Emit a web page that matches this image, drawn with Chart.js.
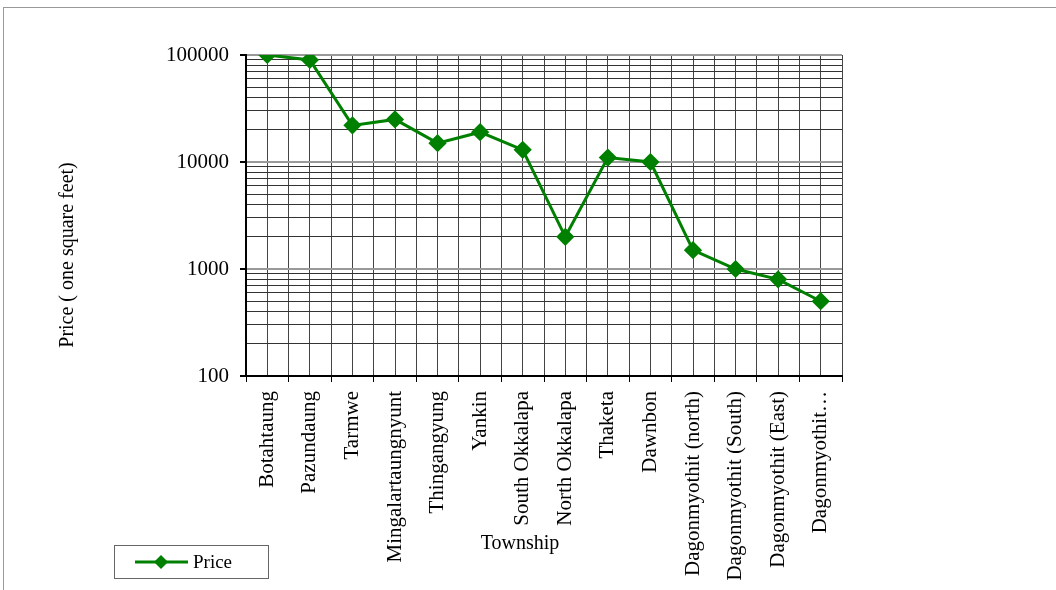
<!DOCTYPE html>
<html>
<head>
<meta charset="utf-8">
<script src="https://cdn.jsdelivr.net/npm/chart.js@4/dist/chart.umd.min.js"></script>
<style>
  html, body { margin: 0; padding: 0; background: #fff; overflow: hidden; }
  #frame { position: absolute; left: 3px; top: 7px; width: 1100px; height: 700px; border: 1px solid #999; }
  #wrap { position: absolute; left: 0; top: 0; width: 1056px; height: 590px; }
</style>
</head>
<body>
<div id="frame"></div>
<div id="wrap"><canvas id="priceChart"></canvas></div>
<script>
const townships = [
    "Botahtaung", "Pazundaung", "Tarmwe", "Mingalartaungnyunt", "Thingangyung",
    "Yankin", "South Okkalapa", "North Okkalapa", "Thaketa", "Dawnbon",
    "Dagonmyothit (north)", "Dagonmyothit (South)", "Dagonmyothit (East)", "Dagonmyothit…"
];
const prices = [100000, 90000, 22000, 25000, 15000, 19000, 13000, 2000, 11000, 10000, 1500, 1000, 800, 500];
const yTicks = [100, 1000, 10000, 100000];
const minorSteps = [1, 2, 3, 4, 5, 6, 7, 8, 9];

const FONT = "'Liberation Serif', 'Times New Roman', serif";
const GREEN = "#008000";

// grid values: 1..9 x each decade
const gridValues = [];
yTicks.forEach(d => {
    if (d === yTicks[yTicks.length - 1]) { gridValues.push(d); return; }
    minorSteps.forEach(k => gridValues.push(d * k));
});

// axis titles and legend drawn in Excel-like spots
const extrasPlugin = {
    id: "extras",
    afterDraw(chart) {
        const ctx = chart.ctx;
        ctx.save();
        ctx.fillStyle = "#000";
        ctx.font = "20px " + FONT;
        ctx.textAlign = "center";
        ctx.textBaseline = "middle";

        // y title
        ctx.save();
        ctx.translate(68, 255);
        ctx.rotate(-Math.PI / 2);
        ctx.fillText("Price ( one square feet)", 0, 0);
        ctx.restore();

        // x title
        ctx.fillText("Township", 520, 544);

        // legend box
        const ds = chart.data.datasets[0];
        ctx.strokeStyle = "#666";
        ctx.lineWidth = 1;
        ctx.strokeRect(114.5, 545.5, 154, 33);
        ctx.strokeStyle = ds.borderColor;
        ctx.lineWidth = 3;
        ctx.beginPath();
        ctx.moveTo(135, 562);
        ctx.lineTo(188, 562);
        ctx.stroke();
        ctx.fillStyle = ds.pointBackgroundColor;
        ctx.beginPath();
        ctx.moveTo(161, 555);
        ctx.lineTo(168, 562);
        ctx.lineTo(161, 569);
        ctx.lineTo(154, 562);
        ctx.closePath();
        ctx.fill();
        ctx.fillStyle = "#000";
        ctx.textAlign = "left";
        ctx.font = "19px " + FONT;
        ctx.fillText(ds.label, 193, 563);
        ctx.restore();
    }
};

new Chart(document.getElementById("priceChart"), {
    type: "line",
    data: {
        labels: townships,
        datasets: [{
            label: "Price",
            data: prices,
            borderColor: GREEN,
            backgroundColor: GREEN,
            pointBackgroundColor: GREEN,
            pointBorderColor: GREEN,
            borderWidth: 3,
            pointStyle: "rectRot",
            pointRadius: 7,
            tension: 0
        }]
    },
    options: {
        responsive: true,
        maintainAspectRatio: false,
        animation: false,
        layout: { padding: { top: 55, right: 214, left: 0, bottom: 0 } },
        plugins: {
            legend: { display: false },
            tooltip: { enabled: false }
        },
        scales: {
            x: {
                type: "category",
                offset: true,
                grid: {
                    offset: true,
                    color: "#444",
                    lineWidth: 1,
                    tickLength: 6,
                    tickColor: "#000"
                },
                border: { color: "#000", width: 2 },
                ticks: {
                    color: "#000",
                    font: { family: FONT, size: 21 },
                    minRotation: 90,
                    maxRotation: 90,
                    autoSkip: false,
                    padding: 9
                },
                afterFit(scale) { scale.height = 214; }
            },
            xc: {
                type: "category",
                position: "bottom",
                labels: townships,
                offset: true,
                grid: { offset: false, color: "#444", lineWidth: 1, drawTicks: false },
                border: { display: false },
                ticks: { display: false },
                afterFit(scale) { scale.height = 0; }
            },
            y: {
                type: "logarithmic",
                min: 100,
                max: 100000,
                afterBuildTicks(scale) {
                    scale.ticks = gridValues.map(v => ({ value: v }));
                },
                grid: {
                    color: c => yTicks.includes(c.tick.value) ? "#999" : "#333",
                    lineWidth: c => yTicks.includes(c.tick.value) ? 2 : 1,
                    tickLength: 6,
                    tickColor: c => yTicks.includes(c.tick.value) ? "#000" : "rgba(0,0,0,0)"
                },
                border: { color: "#000", width: 2 },
                ticks: {
                    autoSkip: false,
                    color: "#000",
                    font: { family: FONT, size: 21 },
                    padding: 11,
                    callback: v => yTicks.includes(v) ? String(v) : ""
                },
                afterFit(scale) { scale.width = 246; }
            }
        }
    },
    plugins: [extrasPlugin]
});
</script>
</body>
</html>
